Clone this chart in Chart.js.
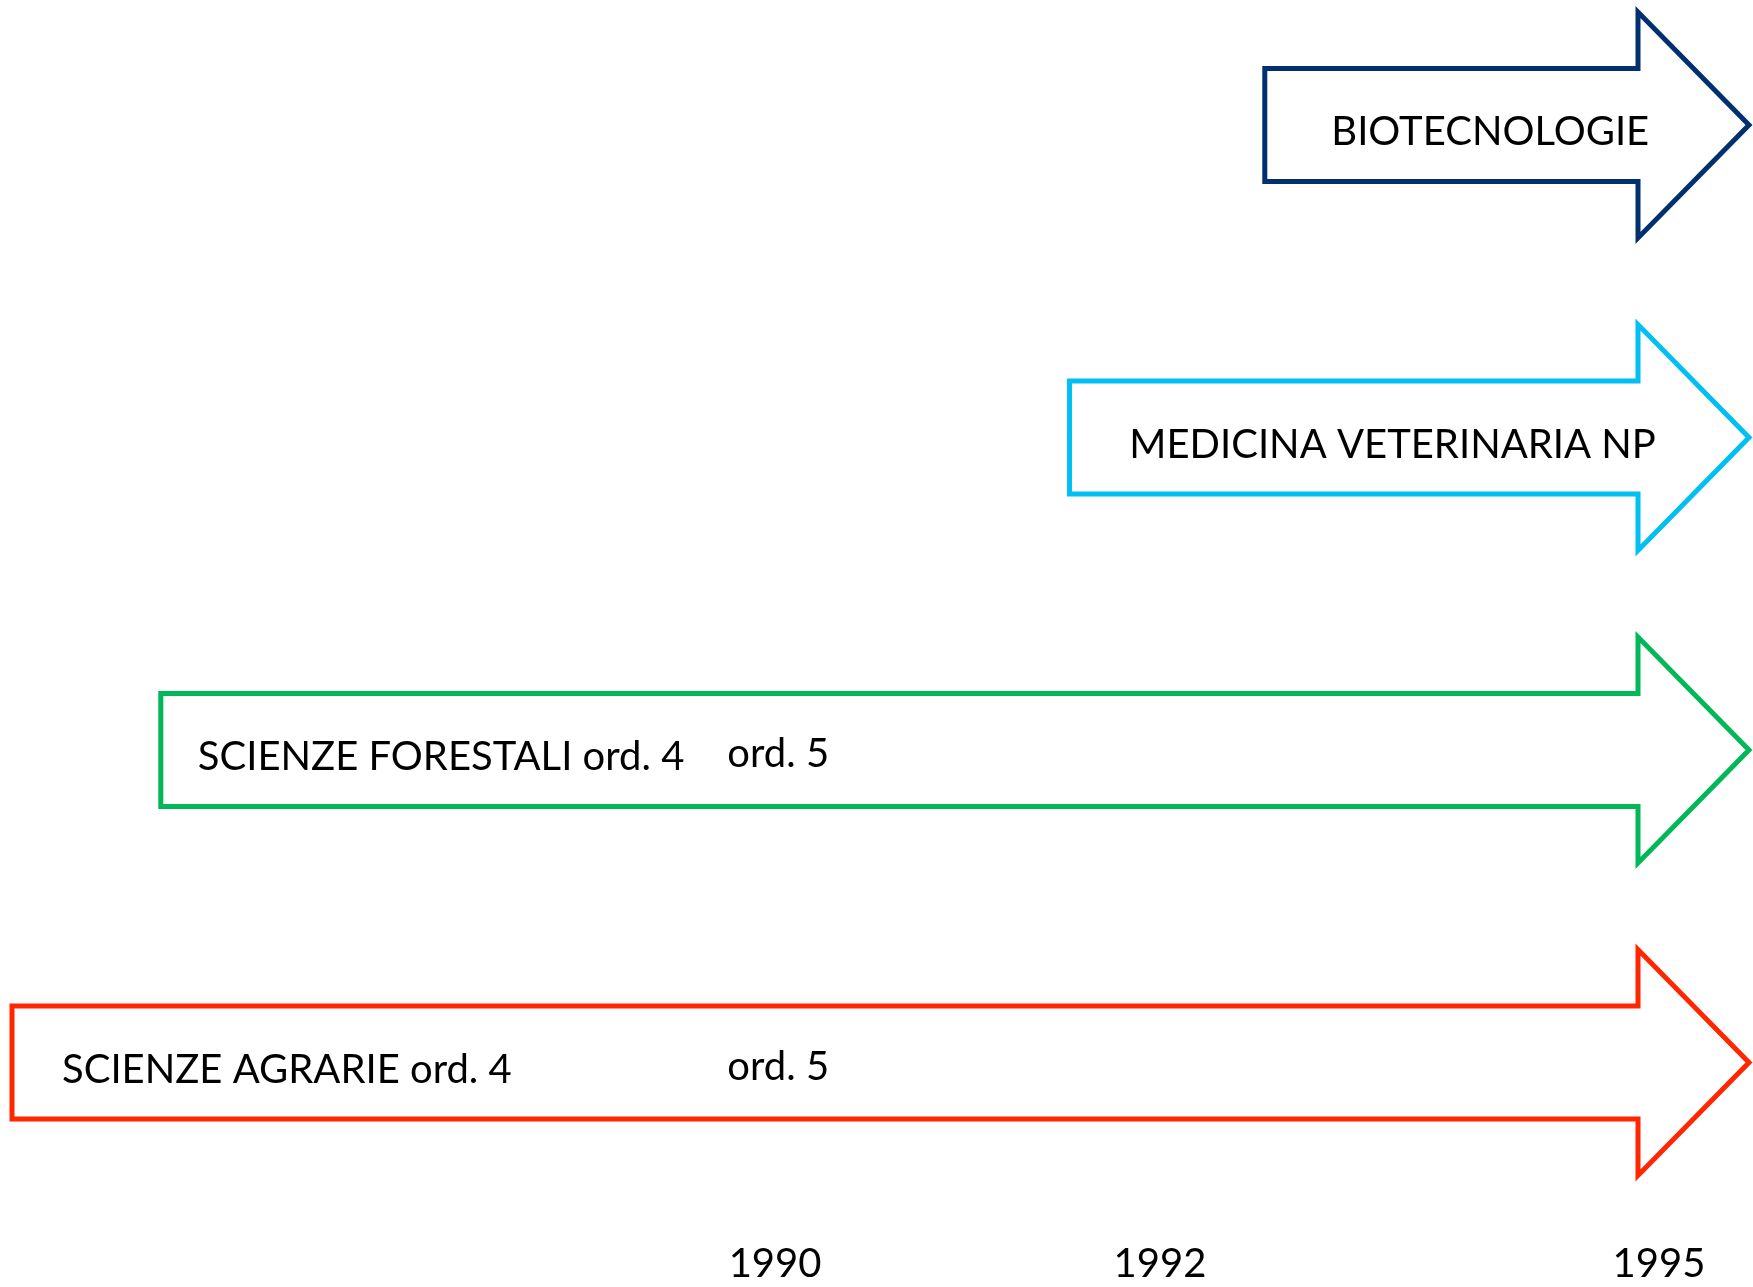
<!DOCTYPE html>
<html>
<head>
<meta charset="utf-8">
<script src="https://cdn.jsdelivr.net/npm/chart.js@4"></script>
<style>
  body { margin: 0; background: #fff; }
  canvas { display: block; }
</style>
</head>
<body>
<canvas id="timeline" width="1753" height="1287"></canvas>
<script>
const courses = ['BIOTECNOLOGIE', 'MEDICINA VETERINARIA NP', 'SCIENZE FORESTALI', 'SCIENZE AGRARIE'];
const firstOrd = [null, null, 'ord. 4', 'ord. 4'];
const startYear = [1992.63, 1991.53, 1986.78, 1986.0];
const endYear = [1996, 1996, 1996, 1996];
const ord5Year = [null, null, 1989.75, 1989.75];
const tickYears = [1990, 1992, 1995];

const colors = ['#003070', '#00BFF3', '#00B858', '#FF2600'];
const FONT = '40px Lato';

// the years on this diagram are not evenly spaced, so map them piecewise
class TimelineScale extends Chart.LinearScale {
  getPixelForValue(value) {
    const a = this.options.anchors;
    let i = 0;
    while (i < a.length - 2 && value > a[i + 1][0]) i++;
    const [v0, f0] = a[i], [v1, f1] = a[i + 1];
    const f = f0 + (value - v0) / (v1 - v0) * (f1 - f0);
    return this.left + f * this.width;
  }
  getValueForPixel(pixel) {
    const a = this.options.anchors;
    const f = (pixel - this.left) / this.width;
    let i = 0;
    while (i < a.length - 2 && f > a[i + 1][1]) i++;
    const [v0, f0] = a[i], [v1, f1] = a[i + 1];
    return v0 + (f - f0) / (f1 - f0) * (v1 - v0);
  }
}
TimelineScale.id = 'timeline';
TimelineScale.defaults = Chart.LinearScale.defaults;
Chart.register(TimelineScale);

const arrowPlugin = {
  id: 'arrows',
  afterDatasetsDraw(chart, args, opts) {
    const ctx = chart.ctx;
    const xs = chart.scales.x;
    chart.getDatasetMeta(0).data.forEach((bar, i) => {
      const x0 = bar.base, x1 = bar.x, cy = bar.y;
      const hb = bar.height / 2, hh = opts.headHalf, xn = x1 - opts.headLength;

      ctx.save();
      ctx.beginPath();
      ctx.moveTo(x0, cy - hb);
      ctx.lineTo(xn, cy - hb);
      ctx.lineTo(xn, cy - hh);
      ctx.lineTo(x1, cy);
      ctx.lineTo(xn, cy + hh);
      ctx.lineTo(xn, cy + hb);
      ctx.lineTo(x0, cy + hb);
      ctx.closePath();
      ctx.fillStyle = '#fff';
      ctx.fill();
      ctx.lineWidth = 5;
      ctx.lineJoin = 'miter';
      ctx.strokeStyle = colors[i];
      ctx.stroke();

      ctx.fillStyle = '#000';
      ctx.font = FONT;
      ctx.textBaseline = 'alphabetic';
      const text = firstOrd[i] ? courses[i] + ' ' + firstOrd[i] : courses[i];
      const st = opts.labels[i];
      if (st.align === 'center') {
        ctx.textAlign = 'center';
        ctx.fillText(text, (x0 + xn + 0.7 * opts.headLength) / 2, cy + 20);
      } else {
        ctx.textAlign = 'left';
        ctx.fillText(text, x0 + st.pad, cy + 20);
      }
      if (ord5Year[i] !== null) {
        ctx.textAlign = 'left';
        ctx.fillText('ord. 5', xs.getPixelForValue(ord5Year[i]), cy + 17);
      }
      ctx.restore();
    });
  }
};

new Chart(document.getElementById('timeline'), {
  type: 'bar',
  data: {
    labels: courses,
    datasets: [{
      data: startYear.map((s, i) => [s, endYear[i]]),
      backgroundColor: 'rgba(0,0,0,0)',
      borderWidth: 0,
      barThickness: 113,
      clip: false
    }]
  },
  options: {
    indexAxis: 'y',
    responsive: false,
    animation: false,
    events: [],
    layout: { padding: { top: 125, left: 12, right: 4, bottom: 0 } },
    scales: {
      x: {
        type: 'timeline',
        position: 'bottom',
        min: 1986,
        max: 1996,
        anchors: [[1986, 0], [1990, 0.4393], [1992, 0.6609], [1995, 0.9482], [1996, 1]],
        afterBuildTicks: (scale) => { scale.ticks = tickYears.map(v => ({ value: v })); },
        afterFit: (scale) => { scale.height = 224.5; },
        // tick marks are hidden with the grid; their length only pushes the labels down
        grid: { display: false, drawTicks: true, tickLength: 174 },
        border: { display: false },
        ticks: {
          padding: 4,
          color: '#000',
          font: { family: 'Lato', size: 40 },
          maxRotation: 0,
          autoSkip: false,
          callback: (v) => String(v)
        }
      },
      y: {
        type: 'category',
        offset: false,
        display: false,
        grid: { display: false }
      }
    },
    plugins: {
      legend: { display: false },
      tooltip: { enabled: false },
      arrows: {
        headLength: 111,
        headHalf: 113,
        labels: [
          { align: 'center' },
          { align: 'center' },
          { align: 'left', pad: 37 },
          { align: 'left', pad: 50 }
        ]
      }
    }
  },
  plugins: [arrowPlugin]
});
</script>
</body>
</html>
